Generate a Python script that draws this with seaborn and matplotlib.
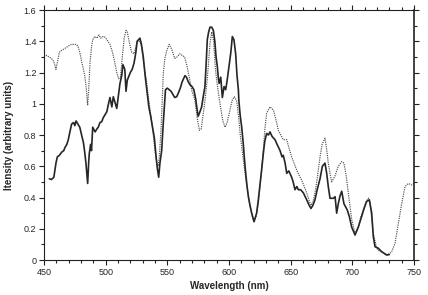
import numpy as np
import pandas as pd
import seaborn as sns
import matplotlib
matplotlib.use("Agg")
import matplotlib.pyplot as plt
from matplotlib.ticker import MultipleLocator, FuncFormatter

# dotted curve (reference spectrum)
wl_ref = [450, 452, 454, 456, 458, 459.7, 461, 462.5, 464, 466, 468, 470, 472, 474, 476, 477.5,
          479, 480.5, 482, 483, 484, 485.4, 486.3, 487.3, 488.5, 489.5, 491, 493, 494.5, 496,
          497.5, 499, 501, 503.5, 505.5, 507.5, 509, 510.5, 512, 513.5, 515, 516.5, 517.5, 519,
          521, 523, 525, 527, 529, 531, 533, 534.5, 536, 538.5, 540, 541.5, 542.5, 543.5, 545,
          546.7, 548, 549.5, 551.5, 553.5, 556, 558, 560, 562, 564, 566, 568, 570, 572.4, 574,
          576, 577.5, 579, 580.5, 582, 583, 584.5, 586, 587.5, 589, 590.5, 592.7, 595, 596.8,
          598.5, 600.8, 602.5, 604.3, 606.2, 608, 609, 611, 613, 615, 617, 618.5, 620.3, 622,
          623.8, 625.5, 627.8, 629, 630.5, 633.2, 636, 638, 640, 642, 644, 646.8, 648.5, 650.8,
          652.7, 654.9, 657, 659, 661, 663, 665, 666.5, 668, 669.7, 671.5, 673.8, 675.5, 677.8,
          679, 680.5, 682, 683.3, 686, 688.6, 691.4, 693.2, 695, 696.7, 699.5, 702.2, 704.8, 707,
          708.9, 711, 713, 714.3, 715.5, 717, 719.7, 721.5, 723.8, 727.9, 730, 731.9, 734.6,
          737.3, 740, 742.7, 745.4, 748, 750]
int_ref = [1.30, 1.31, 1.30, 1.29, 1.27, 1.22, 1.27, 1.33, 1.34, 1.35, 1.36, 1.37, 1.38, 1.38, 1.38, 1.37,
           1.33, 1.27, 1.22, 1.18, 1.12, 0.99, 1.10, 1.26, 1.36, 1.41, 1.43, 1.42, 1.44, 1.42,
           1.43, 1.43, 1.41, 1.38, 1.33, 1.26, 1.20, 1.16, 1.17, 1.30, 1.42, 1.47, 1.46, 1.40,
           1.33, 1.32, 1.38, 1.41, 1.37, 1.25, 1.15, 1.05, 0.96, 0.81, 0.70, 0.62, 0.60, 0.66, 0.85,
           1.19, 1.29, 1.34, 1.38, 1.35, 1.29, 1.30, 1.32, 1.31, 1.30, 1.24, 1.16, 1.08, 1.02, 0.92,
           0.83, 0.84, 0.93, 1.02, 1.13, 1.22, 1.38, 1.46, 1.40, 1.22, 1.12, 1.00, 0.89, 0.85,
           0.88, 0.96, 1.02, 1.045, 1.02, 0.90, 0.81, 0.68, 0.555, 0.45, 0.35, 0.29, 0.245, 0.28,
           0.365, 0.50, 0.70, 0.83, 0.94, 0.98, 0.96, 0.90, 0.83, 0.80, 0.77, 0.77, 0.72, 0.66,
           0.62, 0.575, 0.54, 0.51, 0.47, 0.43, 0.38, 0.35, 0.37, 0.43, 0.52, 0.66, 0.74, 0.78,
           0.72, 0.62, 0.55, 0.50, 0.54, 0.60, 0.63, 0.62, 0.54, 0.43, 0.26, 0.17, 0.21, 0.28,
           0.32, 0.37, 0.395, 0.37, 0.28, 0.17, 0.075, 0.06, 0.053, 0.032, 0.04, 0.053, 0.107,
           0.235, 0.36, 0.47, 0.49, 0.48, 0.49]

# solid curve (measured spectrum)
wl_meas = [454.3, 456, 458, 459.7, 460.8, 462.5, 464.3, 466, 467, 468.5, 469.7, 471, 472.4, 474, 475,
           476, 477.5, 479, 480.5, 482, 483, 484, 485.4, 486.2, 486.7, 487.8, 488.5, 489.5, 491.4,
           493, 494, 495.4, 496.8, 498, 499.5, 501, 502, 503.5, 505, 506.2, 507.5, 509, 510.5,
           511.6, 513, 514, 515.5, 516.5, 517.5, 518.5, 520, 521.5, 523, 524.5, 525.5, 527.8, 529,
           530.5, 532, 533.5, 535, 536.5, 538, 539.5, 541, 542, 543, 544, 545.4, 546.5, 547.5,
           548.5, 550, 551.5, 553, 554.5, 556, 557.6, 559, 560.5, 562, 564.3, 565.5, 567, 568.5,
           570, 571.5, 573, 574, 575, 576.5, 577.8, 579, 580.5, 581.5, 582.4, 583.5, 584.6, 586,
           587.3, 588.5, 589.5, 590.5, 591.3, 592, 593.3, 594.6, 596, 597.3, 598.5, 600, 601.5,
           602.7, 604, 605.4, 606.5, 607.6, 608, 609, 610.3, 611.5, 613, 614.5, 615.7, 617, 618.4,
           620.3, 622.4, 623.7, 625, 626.5, 627.8, 629, 630.5, 632, 633.2, 635, 637.3, 639, 641.4,
           643, 644, 645.5, 646.8, 648.5, 650.8, 652, 653.5, 655, 656.2, 658, 660.3, 661.5, 663,
           665, 666.5, 668, 669.7, 671.5, 673.8, 675.7, 677.8, 679.2, 680.5, 681.9, 684.6, 686,
           687.3, 688.6, 690, 691.4, 693.2, 694.5, 695.9, 697.5, 699.5, 702.2, 704.8, 707.6, 709.5,
           711.6, 713.8, 715.7, 717, 718.4, 721.1, 723.8, 727.9, 730]
int_meas = [0.52, 0.515, 0.53, 0.62, 0.66, 0.67, 0.69, 0.70, 0.72, 0.74, 0.77, 0.82, 0.87, 0.88, 0.86,
            0.89, 0.87, 0.85, 0.80, 0.75, 0.69, 0.62, 0.49, 0.62, 0.68, 0.74, 0.70, 0.85, 0.82,
            0.84, 0.85, 0.88, 0.885, 0.91, 0.93, 0.95, 0.99, 1.04, 0.98, 1.045, 1.01, 0.97, 1.06,
            1.13, 1.18, 1.25, 1.22, 1.08, 1.15, 1.17, 1.20, 1.22, 1.26, 1.33, 1.40, 1.42, 1.38,
            1.30, 1.18, 1.08, 0.98, 0.92, 0.85, 0.78, 0.65, 0.58, 0.53, 0.62, 0.70, 0.85, 0.97,
            1.09, 1.10, 1.09, 1.08, 1.06, 1.04, 1.045, 1.07, 1.10, 1.14, 1.18, 1.17, 1.14, 1.12,
            1.11, 1.09, 1.03, 0.97, 0.92, 0.95, 0.98, 1.04, 1.11, 1.26, 1.41, 1.46, 1.49, 1.49,
            1.47, 1.40, 1.30, 1.24, 1.17, 1.13, 1.17, 1.04, 1.11, 1.09, 1.15, 1.24, 1.33,
            1.43, 1.41, 1.32, 1.18, 1.09, 1.02, 0.93, 0.85, 0.75, 0.60, 0.48, 0.405, 0.35, 0.30,
            0.245, 0.30, 0.38, 0.47, 0.58, 0.68, 0.76, 0.81, 0.80, 0.82, 0.79, 0.77, 0.74, 0.70,
            0.66, 0.67, 0.62, 0.555, 0.57, 0.53, 0.50, 0.45, 0.47, 0.45, 0.45, 0.43, 0.41, 0.385,
            0.35, 0.33, 0.35, 0.385, 0.45, 0.52, 0.60, 0.62, 0.555, 0.47, 0.395, 0.395, 0.405,
            0.30, 0.36, 0.41, 0.44, 0.36, 0.34, 0.32, 0.28, 0.21, 0.16, 0.21, 0.28, 0.33,
            0.375, 0.385, 0.30, 0.15, 0.085, 0.075, 0.053, 0.032, 0.035]

df_ref = pd.DataFrame({"wl": wl_ref, "intensity": int_ref})
df_meas = pd.DataFrame({"wl": wl_meas, "intensity": int_meas})

sns.set_theme(style="ticks")
plt.rcParams['font.family'] = ['Liberation Sans', 'DejaVu Sans']

fig = plt.figure(figsize=(4.28, 2.95), dpi=100)
ax = fig.add_axes([0.1028, 0.1186, 0.8645, 0.8475])

sns.lineplot(data=df_ref, x="wl", y="intensity", ax=ax, estimator=None, sort=False,
             color="#505050", linewidth=0.85, linestyle=(0, (1, 0.9)))
sns.lineplot(data=df_meas, x="wl", y="intensity", ax=ax, estimator=None, sort=False,
             color="#262626", linewidth=1.2)

ax.set_xlim(450, 750)
ax.set_ylim(0, 1.6)
ax.xaxis.set_major_locator(MultipleLocator(50))
ax.xaxis.set_minor_locator(MultipleLocator(10))
ax.yaxis.set_major_locator(MultipleLocator(0.2))
ax.yaxis.set_minor_locator(MultipleLocator(0.1))
ax.yaxis.set_major_formatter(FuncFormatter(lambda v, p: "%g" % round(v, 2)))

ax.tick_params(which="both", direction="out", top=True, right=True, labelsize=6.5,
               width=0.8, color="#222222", pad=2)
ax.tick_params(which="major", length=3.5)
ax.tick_params(which="minor", length=2.5)
for s in ax.spines.values():
    s.set_linewidth(0.8)
    s.set_color("#222222")
ax.spines["right"].set_linewidth(1.2)

ax.set_xlabel("Wavelength (nm)", fontsize=7, fontweight="bold", labelpad=3)
ax.set_ylabel("Itensity (arbitrary units)", fontsize=7, fontweight="bold", labelpad=7)

fig.savefig("out.png", dpi=100)
